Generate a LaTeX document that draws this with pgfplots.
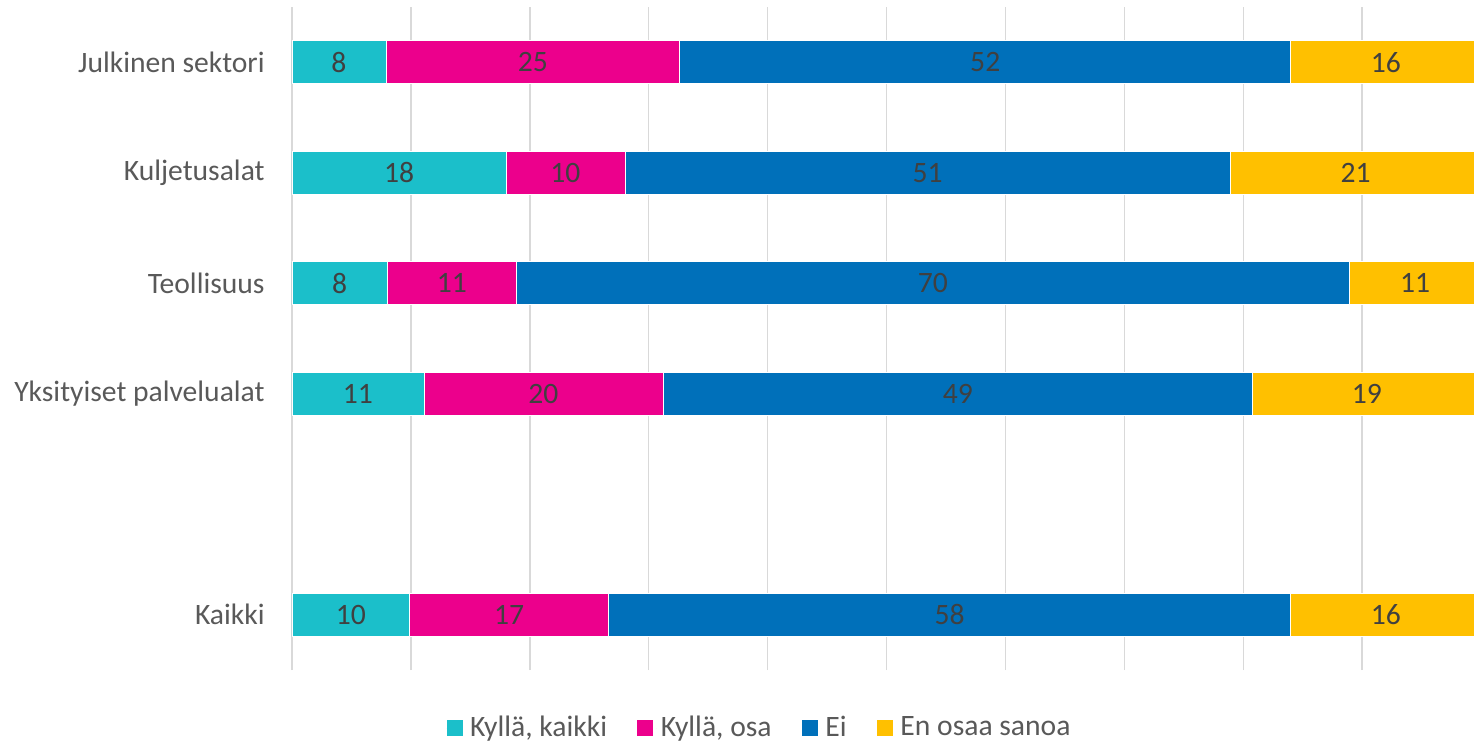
\documentclass[border=0pt]{standalone}
\usepackage{pgfplots}
\pgfplotsset{compat=1.18}
\usepackage{pgfplotstable}
\usepackage{fontspec}
\setmainfont{Carlito}
\definecolor{ccyan}{HTML}{1BBFCA}
\definecolor{cmag}{HTML}{EC008C}
\definecolor{cblue}{HTML}{0070BA}
\definecolor{cyel}{HTML}{FFC000}
\definecolor{tgray}{HTML}{595959}
\definecolor{dgray}{HTML}{404040}
\definecolor{ggray}{HTML}{D9D9D9}

% y: 5 Julkinen, 4 Kuljetus, 3 Teollisuus, 2 Yksityiset, 0 Kaikki
\pgfplotstableread{
y x lab
5 7.9 8
4 18.0 18
3 8.0 8
2 11.1 11
0 9.9 10
}\kk
\pgfplotstableread{
y x lab
5 24.7 25
4 10.0 10
3 10.9 11
2 20.1 20
0 16.7 17
}\ko
\pgfplotstableread{
y x lab
5 51.4 52
4 50.9 51
3 70.0 70
2 49.6 49
0 57.4 58
}\ei
\pgfplotstableread{
y x lab
5 16.0 16
4 21.1 21
3 11.1 11
2 19.2 19
0 16.0 16
}\eos

\begin{document}
\fontsize{14.8}{17}\selectfont
\begin{tikzpicture}
\clip (-146pt,-35.5pt) rectangle (591pt,335pt);
\begin{axis}[
  scale only axis,
  width=600.5pt, height=331.5pt,
  xbar stacked,
  bar width=21.5pt,
  xmin=0, xmax=101,
  ymin=-0.5, ymax=5.5,
  xtick={0,10,...,90},
  xticklabels={},
  xmajorgrids,
  major grid style={draw=ggray, line width=0.75pt},
  axis line style={draw=none},
  tick style={draw=none},
  ytick={0,2,3,4,5},
  yticklabels={Kaikki,Yksityiset palvelualat,Teollisuus,Kuljetusalat,Julkinen sektori},
  yticklabel style={font=\fontsize{14.8}{17}\selectfont, text=tgray, inner sep=0pt, xshift=-13.5pt},
  point meta=explicit symbolic,
  nodes near coords,
  every node near coord/.append style={anchor=center, text=dgray, inner sep=0pt,
    font=\fontsize{14.8}{17}\selectfont},
  legend columns=-1,
  legend style={at={(0.39,-0.088)}, anchor=center, draw=none, fill=none,
    font=\fontsize{14.8}{17}\selectfont, text=tgray,
    /tikz/every even column/.append style={column sep=13pt},
    cells={anchor=west}, inner sep=0pt},
  legend image code/.code={\path (-3pt,0pt) -- (6.5pt,0pt);\fill[#1, draw=none] (-3pt,-4pt) rectangle (5pt,4pt);},
]
\addplot[fill=ccyan, draw=white, line width=0.4pt] table[x=x,y=y,meta=lab] {\kk};
\addplot[fill=cmag, draw=white, line width=0.4pt] table[x=x,y=y,meta=lab] {\ko};
\addplot[fill=cblue, draw=white, line width=0.4pt] table[x=x,y=y,meta=lab] {\ei};
\addplot[fill=cyel, draw=white, line width=0.4pt] table[x=x,y=y,meta=lab] {\eos};
\legend{{Kyllä, kaikki},{Kyllä, osa},Ei,En osaa sanoa}
\end{axis}
\end{tikzpicture}
\end{document}
